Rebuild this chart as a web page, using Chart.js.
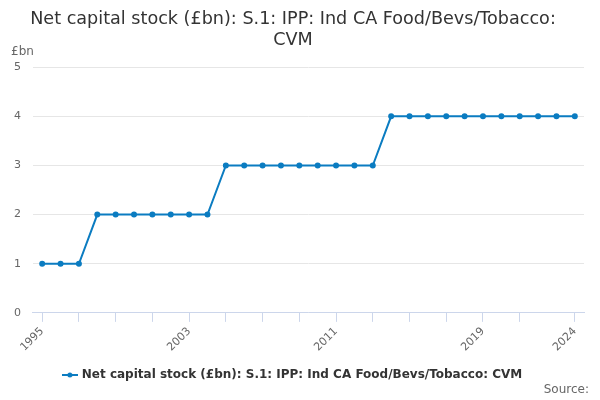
<!DOCTYPE html>
<html>
<head>
<meta charset="utf-8">
<script src="https://cdn.jsdelivr.net/npm/chart.js@4"></script>
<style>
  html, body { margin: 0; padding: 0; background: #fff; }
  #wrap { width: 600px; height: 400px; }
</style>
</head>
<body>
<div id="wrap"><canvas id="myChart" width="600" height="400"></canvas></div>
<script>
const years = [];
for (let y = 1995; y <= 2024; y++) years.push(String(y));

const values = [
    1, 1, 1,                       // 1995-1997
    2, 2, 2, 2, 2, 2, 2,           // 1998-2004
    3, 3, 3, 3, 3, 3, 3, 3, 3,     // 2005-2013
    4, 4, 4, 4, 4, 4, 4, 4, 4, 4, 4 // 2014-2024
];

const shownLabels = ['1995', '2003', '2011', '2019', '2024'];
const seriesName = 'Net capital stock (£bn): S.1: IPP: Ind CA Food/Bevs/Tobacco: CVM';
const lineColor = '#0b7cc1';

// legend marker: short line with a dot
const marker = document.createElement('canvas');
marker.width = 16; marker.height = 8;
const mctx = marker.getContext('2d');
mctx.strokeStyle = lineColor; mctx.lineWidth = 2;
mctx.beginPath(); mctx.moveTo(0, 4); mctx.lineTo(16, 4); mctx.stroke();
mctx.fillStyle = lineColor;
mctx.beginPath(); mctx.arc(8, 4, 2.5, 0, Math.PI * 2); mctx.fill();

const extraText = {
    id: 'extraText',
    afterDraw(chart) {
        const ctx = chart.ctx;
        ctx.save();
        ctx.font = '12px "DejaVu Sans", sans-serif';
        ctx.fillStyle = '#666';
        ctx.textBaseline = 'middle';
        ctx.textAlign = 'left';
        ctx.fillText('£bn', 11, 52);
        ctx.textAlign = 'right';
        ctx.fillText('Source:', 589, 390);
        ctx.restore();
    }
};

const config = {
    type: 'line',
    data: {
        labels: years,
        datasets: [{
            label: seriesName,
            data: values,
            borderColor: lineColor,
            backgroundColor: lineColor,
            borderWidth: 2,
            pointRadius: 2,
            pointHoverRadius: 4,
            tension: 0
        }]
    },
    options: {
        responsive: false,
        animation: false,
        layout: { padding: { left: 2, right: 16, top: 0, bottom: 9 } },
        scales: {
            x: {
                offset: true,
                grid: {
                    offset: false,
                    drawOnChartArea: false,
                    drawTicks: true,
                    tickLength: 9,
                    color: function(ctx) {
                        const i = ctx.index;
                        return (i % 2 === 0 && i < 28) || i === 29 ? '#ccd6eb' : 'rgba(0,0,0,0)';
                    }
                },
                border: { color: '#ccd6eb' },
                ticks: {
                    autoSkip: false,
                    maxRotation: 45,
                    minRotation: 45,
                    color: '#666',
                    font: { family: '"DejaVu Sans", sans-serif', size: 11 },
                    callback: function(val) {
                        const l = this.getLabelForValue(val);
                        return shownLabels.includes(l) ? l : '';
                    }
                }
            },
            y: {
                min: 0,
                max: 5,
                ticks: {
                    stepSize: 1,
                    color: '#666',
                    padding: 12,
                    font: { family: '"DejaVu Sans", sans-serif', size: 11 }
                },
                grid: { color: '#e6e6e6', drawTicks: false },
                border: { display: false }
            }
        },
        plugins: {
            title: {
                display: true,
                text: ['Net capital stock (£bn): S.1: IPP: Ind CA Food/Bevs/Tobacco:', 'CVM'],
                color: '#333',
                font: { family: '"DejaVu Sans", sans-serif', size: 17.6, weight: 'normal' },
                padding: { top: 9, bottom: 16 },
                lineHeight: 1.2
            },
            legend: {
                position: 'bottom',
                labels: {
                    usePointStyle: true,
                    pointStyle: marker,
                    color: '#333',
                    font: { family: '"DejaVu Sans", sans-serif', size: 12, weight: 'bold' },
                    padding: 12
                }
            },
            tooltip: { enabled: true }
        }
    },
    plugins: [extraText]
};

let myChart = new Chart(document.getElementById('myChart'), config);
</script>
</body>
</html>
